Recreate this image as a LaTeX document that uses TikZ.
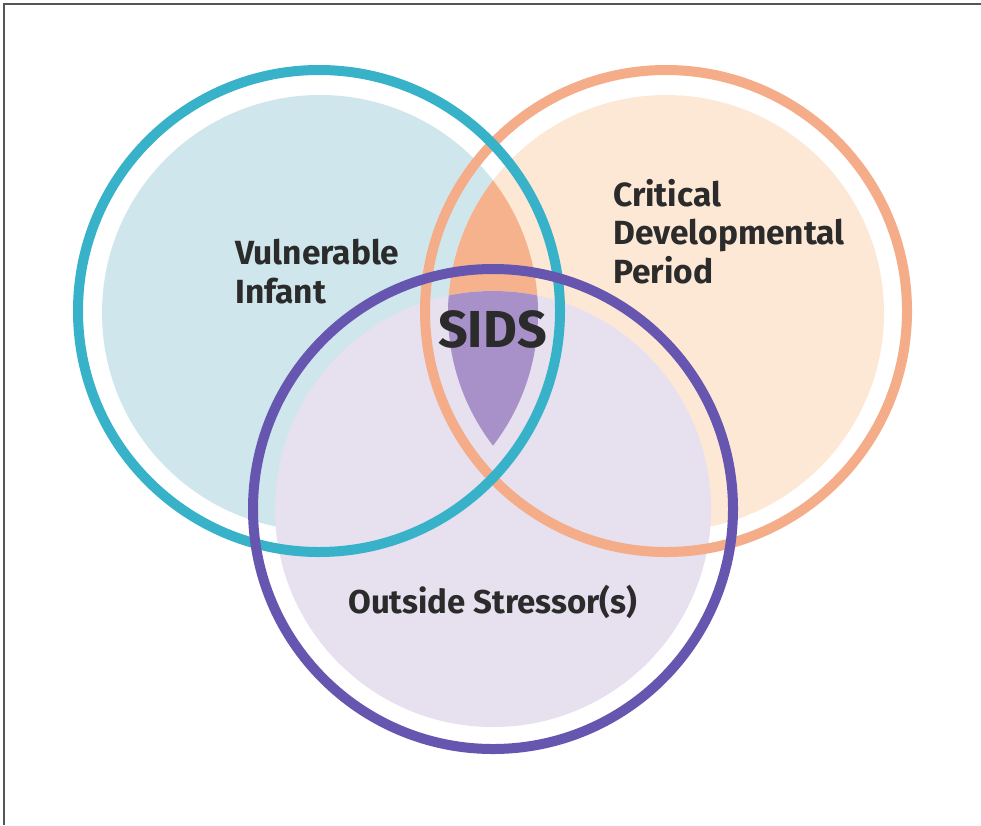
\documentclass[tikz,border=0pt]{standalone}
\usepackage{fontspec}
\setmainfont{Fira Sans}
\definecolor{tealring}{HTML}{38B2C8}
\definecolor{tealfill}{HTML}{CFE7EC}
\definecolor{orangering}{HTML}{F5AC88}
\definecolor{orangefill}{HTML}{FDE8D6}
\definecolor{lensorange}{HTML}{F5B28C}
\definecolor{purplering}{HTML}{6656B0}
\definecolor{purplefill}{HTML}{E6E0EF}
\definecolor{lenspurple}{HTML}{A791C8}
\definecolor{labeltext}{HTML}{2B2B2B}
\definecolor{framecol}{HTML}{555555}
\begin{document}
\begin{tikzpicture}[x=1pt,y=-1pt,
  ring/.style={line width=10pt},
  lbl/.style={inner sep=0pt, text=labeltext, align=left, font=\bfseries\fontsize{33.5}{38.5}\selectfont}]
\useasboundingbox (0,0) rectangle (981,825);
\fill[white] (0,0) rectangle (981,825);
% frame (top and left only)
\draw[framecol, line width=1.5pt] (4,825) -- (4,4) -- (981,4);
% fills
\fill[tealfill] (320,313) circle[radius=218pt];
\fill[orangefill] (666,313) circle[radius=218pt];
\begin{scope}
  \clip (320,313) circle[radius=218pt];
  \fill[lensorange] (666,313) circle[radius=218pt];
\end{scope}
\fill[purplefill] (493,509) circle[radius=218pt];
\begin{scope}
  \clip (320,313) circle[radius=218pt];
  \clip (666,313) circle[radius=218pt];
  \fill[lenspurple] (493,509) circle[radius=218pt];
\end{scope}
% rings
\draw[ring, orangering] (666,311) circle[radius=241pt];
\draw[ring, tealring] (319,311) circle[radius=241pt];
\draw[ring, purplering] (493,509) circle[radius=240pt];
% labels
\node[lbl, anchor=base west] (vi) at (235,303) {Vulnerable\\Infant};
\node[lbl, anchor=base west] (cdp) at (613,283) {Critical\\Developmental\\Period};
\node[lbl, anchor=base west, font=\bfseries\fontsize{52}{60}\selectfont] (sids) at (438,347) {SIDS};
\node[lbl, anchor=base west, font=\bfseries\fontsize{33}{38}\selectfont] (os) at (348,613) {Outside Stressor(s)};
\end{tikzpicture}
\end{document}
